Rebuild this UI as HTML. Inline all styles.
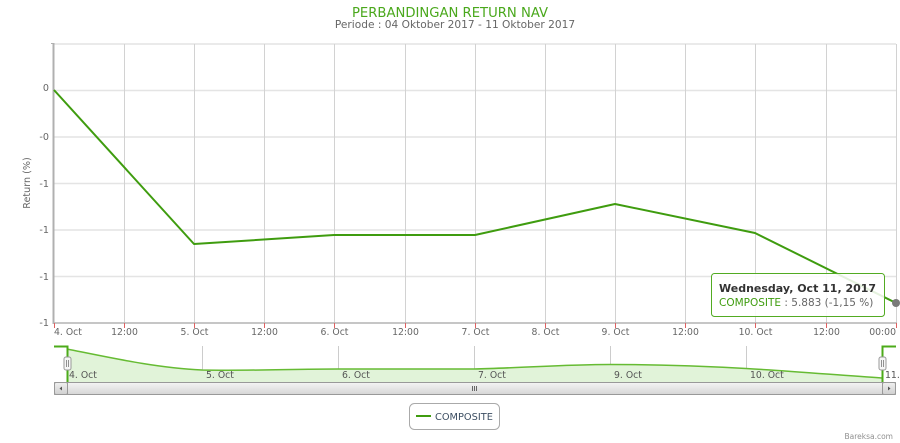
<!DOCTYPE html>
<html>
<head>
<meta charset="utf-8">
<style>
  html, body { margin:0; padding:0; background:#fff; }
  svg { display:block; }
  text { font-family: "DejaVu Sans", "Liberation Sans", sans-serif; }
</style>
</head>
<body>
<svg width="900" height="443" viewBox="0 0 900 443" xmlns="http://www.w3.org/2000/svg">
  <defs>
    <linearGradient id="sb" x1="0" y1="0" x2="0" y2="1">
      <stop offset="0" stop-color="#f4f4f4"/>
      <stop offset="1" stop-color="#d6d6d6"/>
    </linearGradient>
    <linearGradient id="sbb" x1="0" y1="0" x2="0" y2="1">
      <stop offset="0" stop-color="#f0f0f0"/>
      <stop offset="1" stop-color="#cfcfcf"/>
    </linearGradient>
  </defs>

  <!-- Title -->
  <text x="450" y="17" text-anchor="middle" font-size="13.2" fill="#4aa81c">PERBANDINGAN RETURN NAV</text>
  <text x="455" y="28" text-anchor="middle" font-size="10.6" fill="#666">Periode : 04 Oktober 2017 - 11 Oktober 2017</text>

  <!-- Horizontal gridlines -->
  <g stroke="#e4e4e4" stroke-width="1.5">
    <line x1="54" y1="44" x2="896" y2="44"/>
    <line x1="54" y1="90.5" x2="896" y2="90.5"/>
    <line x1="54" y1="137" x2="896" y2="137"/>
    <line x1="54" y1="183.5" x2="896" y2="183.5"/>
    <line x1="54" y1="230" x2="896" y2="230"/>
    <line x1="54" y1="276.5" x2="896" y2="276.5"/>
  </g>
  <!-- Vertical gridlines -->
  <g stroke="#d2d2d2" stroke-width="1">
    <line x1="124.5" y1="44" x2="124.5" y2="323"/>
    <line x1="194.5" y1="44" x2="194.5" y2="323"/>
    <line x1="264.5" y1="44" x2="264.5" y2="323"/>
    <line x1="334.5" y1="44" x2="334.5" y2="323"/>
    <line x1="405.5" y1="44" x2="405.5" y2="323"/>
    <line x1="475.5" y1="44" x2="475.5" y2="323"/>
    <line x1="545.5" y1="44" x2="545.5" y2="323"/>
    <line x1="615.5" y1="44" x2="615.5" y2="323"/>
    <line x1="685.5" y1="44" x2="685.5" y2="323"/>
    <line x1="755.5" y1="44" x2="755.5" y2="323"/>
    <line x1="826.5" y1="44" x2="826.5" y2="323"/>
    <line x1="896.5" y1="44" x2="896.5" y2="323"/>
  </g>

  <!-- Axes -->
  <line x1="53.5" y1="43" x2="53.5" y2="324" stroke="#b0b0b0" stroke-width="2"/>
  <line x1="51" y1="43.5" x2="54" y2="43.5" stroke="#b0b0b0" stroke-width="1"/>
  <line x1="53" y1="323" x2="897" y2="323" stroke="#b4b4b4" stroke-width="1.5"/>
  <!-- red ticks -->
  <g stroke="#e06060" stroke-width="1">
    <line x1="54.5" y1="323" x2="54.5" y2="328"/>
    <line x1="124.5" y1="323" x2="124.5" y2="328"/>
    <line x1="194.5" y1="323" x2="194.5" y2="328"/>
    <line x1="264.5" y1="323" x2="264.5" y2="328"/>
    <line x1="334.5" y1="323" x2="334.5" y2="328"/>
    <line x1="405.5" y1="323" x2="405.5" y2="328"/>
    <line x1="475.5" y1="323" x2="475.5" y2="328"/>
    <line x1="545.5" y1="323" x2="545.5" y2="328"/>
    <line x1="615.5" y1="323" x2="615.5" y2="328"/>
    <line x1="685.5" y1="323" x2="685.5" y2="328"/>
    <line x1="755.5" y1="323" x2="755.5" y2="328"/>
    <line x1="826.5" y1="323" x2="826.5" y2="328"/>
    <line x1="896.5" y1="323" x2="896.5" y2="328"/>
  </g>

  <!-- Y labels -->
  <g font-size="9.6" fill="#666" text-anchor="end">
    <text x="49" y="91">0</text>
    <text x="49" y="140">-0</text>
    <text x="49" y="187">-1</text>
    <text x="49" y="233">-1</text>
    <text x="49" y="280">-1</text>
    <text x="49" y="326">-1</text>
  </g>
  <text transform="translate(30,183) rotate(-90)" text-anchor="middle" font-size="9.6" fill="#666">Return (%)</text>

  <!-- X labels -->
  <g font-size="9.3" fill="#666" text-anchor="middle">
    <text x="54" y="335" text-anchor="start">4. Oct</text>
    <text x="124.5" y="335">12:00</text>
    <text x="194.5" y="335">5. Oct</text>
    <text x="264.5" y="335">12:00</text>
    <text x="334.5" y="335">6. Oct</text>
    <text x="405.5" y="335">12:00</text>
    <text x="475.5" y="335">7. Oct</text>
    <text x="545.5" y="335">8. Oct</text>
    <text x="615.5" y="335">9. Oct</text>
    <text x="685.5" y="335">12:00</text>
    <text x="755.5" y="335">10. Oct</text>
    <text x="826.5" y="335">12:00</text>
    <text x="896" y="335" text-anchor="end">00:00</text>
  </g>

  <!-- Series -->
  <polyline points="54,90 194,244 334,235 475,235 615,204 755,233 896,303" fill="none" stroke="#3f9c0f" stroke-width="2" stroke-linejoin="round"/>
  <circle cx="896" cy="303" r="4" fill="#7a7a7a"/>

  <!-- Tooltip -->
  <rect x="711.5" y="273.5" width="173" height="43" rx="3" ry="3" fill="rgba(255,255,255,0.86)" stroke="#52ab22" stroke-width="1"/>
  <text x="719" y="292" font-size="11" font-weight="bold" fill="#333">Wednesday, Oct 11, 2017</text>
  <text x="719" y="306" font-size="10.5" fill="#666"><tspan fill="#3f9c0f">COMPOSITE</tspan> : 5.883 (-1,15 %)</text>

  <!-- Navigator -->
  <g stroke="#cccccc" stroke-width="1">
    <line x1="202.5" y1="346" x2="202.5" y2="382"/>
    <line x1="338.5" y1="346" x2="338.5" y2="382"/>
    <line x1="474.5" y1="346" x2="474.5" y2="382"/>
    <line x1="610.5" y1="346" x2="610.5" y2="382"/>
    <line x1="746.5" y1="346" x2="746.5" y2="382"/>
  </g>
  <path d="M67,349 C112,358 157,368 202,370 C247,371 293,369 338,369 C383,369 429,369 474,369 C519,368 565,364.5 610,364.5 C655,364.5 701,366 746,368.5 C791,371 837,375 882,378 L882,382 L67,382 Z" fill="#e1f3d9" stroke="none"/>
  <path d="M67,349 C112,358 157,368 202,370 C247,371 293,369 338,369 C383,369 429,369 474,369 C519,368 565,364.5 610,364.5 C655,364.5 701,366 746,368.5 C791,371 837,375 882,378" fill="none" stroke="#66bb33" stroke-width="1.5"/>
  <g font-size="9.3" fill="#555">
    <text x="69" y="378">4. Oct</text>
    <text x="206" y="378">5. Oct</text>
    <text x="342" y="378">6. Oct</text>
    <text x="478" y="378">7. Oct</text>
    <text x="614" y="378">9. Oct</text>
    <text x="750" y="378">10. Oct</text>
    <text x="885" y="378">11.</text>
  </g>
  <!-- nav outline -->
  <polyline points="54,346.5 67.5,346.5 67.5,382" fill="none" stroke="#4cab1a" stroke-width="2"/>
  <polyline points="896,346.5 882.5,346.5 882.5,382" fill="none" stroke="#4cab1a" stroke-width="2"/>
  <!-- handles -->
  <rect x="64" y="357" width="7" height="13" rx="2" fill="#f6f6f6" stroke="#999" stroke-width="1"/>
  <line x1="66.5" y1="360" x2="66.5" y2="367" stroke="#777" stroke-width="0.8"/>
  <line x1="68.5" y1="360" x2="68.5" y2="367" stroke="#777" stroke-width="0.8"/>
  <rect x="879" y="357" width="7" height="13" rx="2" fill="#f6f6f6" stroke="#999" stroke-width="1"/>
  <line x1="881.5" y1="360" x2="881.5" y2="367" stroke="#777" stroke-width="0.8"/>
  <line x1="883.5" y1="360" x2="883.5" y2="367" stroke="#777" stroke-width="0.8"/>

  <!-- Scrollbar -->
  <rect x="54.5" y="382.5" width="841" height="12" fill="#eeeeee" stroke="#aaa" stroke-width="1"/>
  <rect x="67.5" y="382.5" width="815" height="12" fill="url(#sb)" stroke="#999" stroke-width="1"/>
  <rect x="54.5" y="382.5" width="13" height="12" rx="1.5" fill="url(#sbb)" stroke="#999" stroke-width="1"/>
  <rect x="882.5" y="382.5" width="13" height="12" rx="1.5" fill="url(#sbb)" stroke="#999" stroke-width="1"/>
  <path d="M59.5,388.5 L62,386.5 L62,390.5 Z" fill="#555"/>
  <path d="M890.5,388.5 L888,386.5 L888,390.5 Z" fill="#555"/>
  <g stroke="#666" stroke-width="1">
    <line x1="472.5" y1="386" x2="472.5" y2="391"/>
    <line x1="474.5" y1="386" x2="474.5" y2="391"/>
    <line x1="476.5" y1="386" x2="476.5" y2="391"/>
  </g>

  <!-- Legend -->
  <rect x="409.5" y="403.5" width="90" height="26" rx="5" ry="5" fill="#fff" stroke="#aaaaaa" stroke-width="1"/>
  <line x1="416" y1="416" x2="431" y2="416" stroke="#3f9c0f" stroke-width="2"/>
  <text x="435" y="420" font-size="9.8" fill="#3d4f63">COMPOSITE</text>

  <!-- Credit -->
  <text x="893" y="439" text-anchor="end" font-size="7.5" fill="#909090">Bareksa.com</text>
</svg>
</body>
</html>
